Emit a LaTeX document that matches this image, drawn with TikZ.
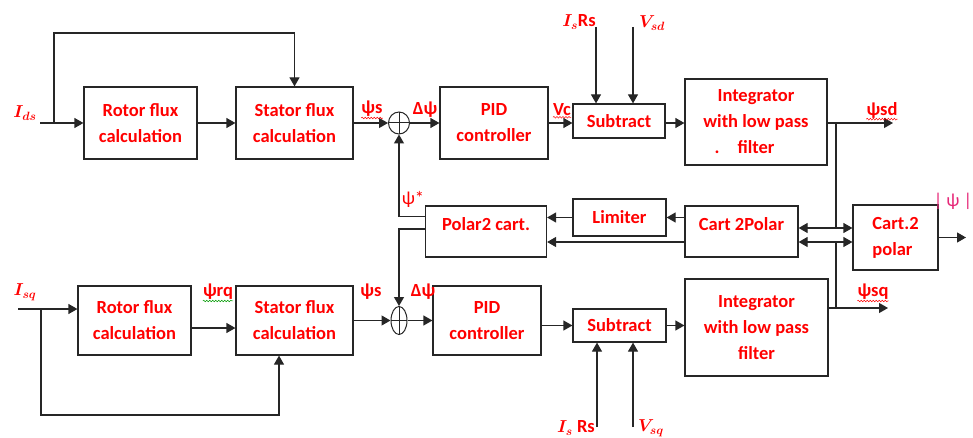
\documentclass[tikz,border=0pt]{standalone}
\usepackage{fontspec}
\setmainfont{Carlito}
\usetikzlibrary{arrows.meta,shapes.geometric,decorations.pathmorphing}
\begin{document}
\begin{tikzpicture}[x=1pt,y=-1pt]
% DTC flux estimator, d-axis on top, q-axis below
\providecommand{\dtcLineColor}{black!85}
\providecommand{\dtcTextColor}{red}
\providecommand{\dtcLineWidth}{1.2pt}
\tikzset{
  blk/.style={draw=\dtcLineColor, line width=\dtcLineWidth, text=\dtcTextColor,
    font=\bfseries\fontsize{18.5}{26}\selectfont, align=center, inner sep=0pt},
  raised/.style={text height=13pt, text depth=16pt},
  lbl/.style={text=\dtcTextColor, font=\bfseries\fontsize{18.5}{22}\selectfont\boldmath, inner sep=0pt},
  sig/.style={draw=\dtcLineColor, line width=\dtcLineWidth},
  arr/.style={sig, -{Triangle[length=9pt,width=10pt]}},
  dbl/.style={sig, {Triangle[length=9pt,width=10pt]}-{Triangle[length=9pt,width=10pt]}},
  sumj/.style={ellipse, draw=\dtcLineColor, line width=1pt, inner sep=0pt,
    path picture={\draw[line width=1pt] (path picture bounding box.north) -- (path picture bounding box.south)
      (path picture bounding box.west) -- (path picture bounding box.east);}},
  squig/.style={draw=red, line width=0.5pt, decorate, decoration={snake, amplitude=0.8pt, segment length=3pt}},
}
\useasboundingbox (0,0) rectangle (973,438);
% d-axis blocks
\node[blk, minimum width=113pt, minimum height=72pt] (rfd) at (140.5,123) {Rotor flux\\calculation};
\node[blk, minimum width=117pt, minimum height=72pt] (sfd) at (294.5,123) {Stator flux\\calculation};
\node[sumj, minimum width=21pt, minimum height=22pt] (sumd) at (399,123) {};
\node[blk, minimum width=108pt, minimum height=72pt] (pidd) at (494,123) {PID\\controller};
\node[blk, minimum width=92pt, minimum height=34pt] (subd) at (619,121) {Subtract};
\node[blk, minimum width=142pt, minimum height=86pt] (intd) at (756,122)
  {Integrator\\with low pass\\\makebox[0pt][r]{.\hspace{18pt}}filter};
% polar blocks
\node[blk, raised, minimum width=121pt, minimum height=51pt] (pcart) at (486,231.5) {Polar2 cart.};
\node[blk, minimum width=93pt, minimum height=37pt] (lim) at (619.5,217.5) {Limiter};
\node[blk, raised, minimum width=113pt, minimum height=51pt] (c2p) at (741.5,231.5) {Cart 2Polar};
\node[blk, align=left, minimum width=85pt, minimum height=65pt] (c2pol) at (895.5,237.5) {Cart.2\\polar};
% q-axis blocks
\node[blk, minimum width=113pt, minimum height=69pt] (rfq) at (134.5,320.5) {Rotor flux\\calculation};
\node[blk, minimum width=117pt, minimum height=69pt] (sfq) at (294.5,320.5) {Stator flux\\calculation};
\node[sumj, minimum width=16pt, minimum height=28pt] (sumq) at (399,320.5) {};
\node[blk, minimum width=108pt, minimum height=69pt] (pidq) at (487,320.5) {PID\\controller};
\node[blk, minimum width=93pt, minimum height=33pt] (subq) at (619.5,325.5) {Subtract};
\node[blk, minimum width=143pt, minimum height=97pt] (intq) at (756.5,327.5) {Integrator\\with low pass\\filter};
% free ends
\coordinate (ind) at (40,123);
\coordinate (brd) at (54,123);
\coordinate (fbd) at (54,33);
\coordinate (isrsd) at (596,27);
\coordinate (vsdd) at (633,27);
\coordinate (psdout) at (893,123);
\coordinate (jd) at (836,123);
\coordinate (inq) at (18,309);
\coordinate (brq) at (41,309);
\coordinate (fbq) at (41,415);
\coordinate (isrsq) at (597,427);
\coordinate (vsqq) at (633,427);
\coordinate (jq) at (836,308);
\coordinate (psqout) at (888,308);
\coordinate (absout) at (966,237.5);
\coordinate (ua) at ([yshift=3.5pt]c2p.east);
\coordinate (la) at ([yshift=-10.5pt]c2p.east);
% d-axis signals
\draw[arr] (ind) -- (rfd);
\draw[arr] (brd) -- (fbd) -| (sfd.north);
\draw[arr] (rfd) -- (sfd);
\draw[arr] (sfd) -- (sumd);
\draw[arr] (sumd) -- (pidd);
\draw[arr] (pidd) -- (pidd -| subd.west);
\draw[arr] (pidd -| subd.east) -- (pidd -| intd.west);
\draw[arr] (isrsd) -- (isrsd |- subd.north);
\draw[arr] (vsdd) -- (vsdd |- subd.north);
\draw[arr] (jd -| intd.east) -- (psdout);
% polar loop
\draw[arr] (lim.east -| c2p.west) -- (lim);
\draw[arr] (lim) -- (lim -| pcart.east);
\draw[arr] (la -| c2p.west) -- (la -| pcart.east);
\draw[dbl] (ua) -- (ua -| c2pol.west);
\draw[dbl] (la) -- (la -| c2pol.west);
\draw[sig] (jd) -- (jd |- ua);
\draw[sig] (jq) -- (jq |- la);
\draw[arr] ([yshift=15pt]pcart.west) -| (sumd);
\draw[arr] ([yshift=2.5pt]pcart.west) -| (sumq);
\draw[arr] (c2pol) -- (absout);
% q-axis signals
\draw[arr] (inq) -- (inq -| rfq.west);
\draw[arr] (brq) -- (fbq) -| ([xshift=-15.5pt]sfq.south);
\draw[arr] ([yshift=-7.5pt]rfq.east) -- ([yshift=-7.5pt]rfq.east -| sfq.west);
\draw[arr] (sfq) -- (sumq);
\draw[arr] (sumq) -- (pidq);
\draw[arr] (pidq.east |- subq) -- (subq);
\draw[arr] (subq) -- (subq -| intq.west);
\draw[arr] (isrsq) -- (isrsq |- subq.south);
\draw[arr] (vsqq) -- (vsqq |- subq.south);
\draw[arr] (jq -| intq.east) -- (psqout);
% labels
\node[lbl] (lids) at (25,113) {$I_{ds}$};
\node[lbl] (lpssd) at (372,109) {ψs};
\node[lbl] (ldpsd) at (425,110) {Δψ};
\node[lbl] (lvc) at (562,110) {Vc};
\node[lbl] (lpsd) at (882,110) {ψsd};
\node[lbl] (lisrsd) at (579,22) {$I_s$Rs};
\node[lbl] (lvsd) at (652,23) {$V_{sd}$};
\node[lbl, font=\fontsize{18.5}{22}\selectfont] (lpstar) at (413,199) {ψ*};
\node[lbl, font=\fontsize{18.5}{22}\selectfont, text={rgb,255:red,230;green,40;blue,120}] (labs) at (953,201) {| ψ |};
\node[lbl] (lpsq) at (873,292) {ψsq};
\node[lbl] (lisq) at (25,292) {$I_{sq}$};
\node[lbl] (lprq) at (218,292) {ψrq};
\node[lbl] (lpssq) at (371,292) {ψs};
\node[lbl] (ldpsq) at (423,292) {Δψ};
\node[lbl] (lisrsq) at (576,428) {$I_s$ Rs};
\node[lbl] (lvsq) at (651,428) {$V_{sq}$};
% spell-check squiggles
\draw[squig] ([yshift=-1pt]lpssd.south west) -- ([yshift=-1pt]lpssd.south east);
\draw[squig] ([yshift=-1pt]lvc.south west) -- ([yshift=-1pt]lvc.south east);
\draw[squig] ([yshift=-1pt]lpsd.south west) -- ([yshift=-1pt]lpsd.south east);
\draw[squig] ([yshift=-1pt]lpsq.south west) -- ([yshift=-1pt]lpsq.south east);
\draw[squig, draw=green!60!black] ([yshift=-1pt]lprq.south west) -- ([yshift=-1pt]lprq.south east);
\end{tikzpicture}
\end{document}
